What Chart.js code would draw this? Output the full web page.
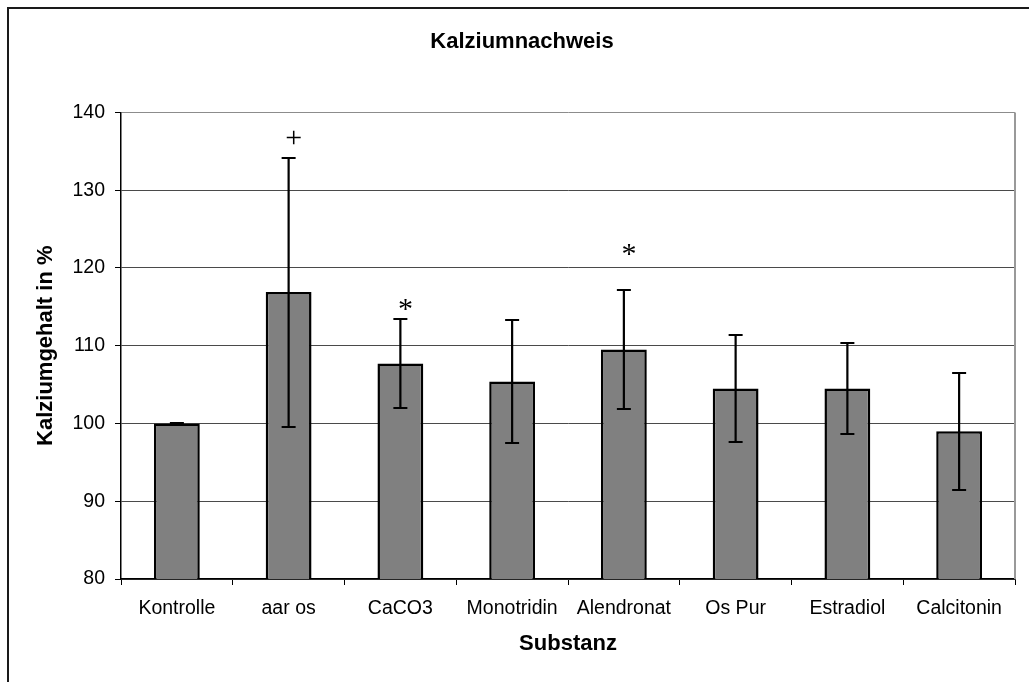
<!DOCTYPE html>
<html>
<head>
<meta charset="utf-8">
<title>Kalziumnachweis</title>
<script src="https://cdn.jsdelivr.net/npm/chart.js@4.4.1/dist/chart.umd.min.js"></script>
<style>
  html, body { margin: 0; padding: 0; background: #fff; }
  #wrap { position: relative; width: 1029px; height: 682px; overflow: hidden; }
  #frame { position: absolute; left: 7px; top: 7px; right: -10px; bottom: -10px;
           border-left: 2px solid #1a1a1a; border-top: 2px solid #1a1a1a; }
  canvas { position: absolute; left: 0; top: 0; }
</style>
</head>
<body>
<div id="wrap">
  <div id="frame"></div>
  <canvas id="chart" width="1029" height="682"></canvas>
</div>
<script>
// Substances tested
const substances = ['Kontrolle', 'aar os', 'CaCO3', 'Monotridin', 'Alendronat', 'Os Pur', 'Estradiol', 'Calcitonin'];

// Mean calcium content in % of control
const calciumMeans = [100, 116.9, 107.7, 105.4, 109.5, 104.5, 104.5, 99.0];

// Standard deviation (half length of the error bar)
const calciumSd = [0, 17.3, 5.7, 7.95, 7.6, 6.9, 5.8, 7.5];

// Significance markers above the bars, and the axis value they sit at
const sigMarks = ['', '+', '*', '', '*', '', '', ''];
const sigLevels = [null, 136.6, 114.6, null, 121.6, null, null, null];

// Value axis range
const yMin = 80;
const yMax = 140;
const yStep = 10;

/**
 * Draws error bars and significance markers on top of the bars
 */
const errorBars = {
  id: 'errorBars',
  afterDatasetsDraw(chart) {
    const { ctx, scales: { x, y } } = chart;
    ctx.save();
    ctx.strokeStyle = '#000';
    ctx.lineWidth = 2.2;
    substances.forEach((name, i) => {
      const px = x.getPixelForValue(i);
      const top = Math.round(y.getPixelForValue(calciumMeans[i] + calciumSd[i]));
      const bot = Math.round(y.getPixelForValue(calciumMeans[i] - calciumSd[i]));
      ctx.beginPath();
      ctx.moveTo(px, top);
      ctx.lineTo(px, bot);
      ctx.moveTo(px - 7, top);
      ctx.lineTo(px + 7, top);
      ctx.moveTo(px - 7, bot);
      ctx.lineTo(px + 7, bot);
      ctx.stroke();
    });

    // Markers
    ctx.fillStyle = '#000';
    ctx.font = '30px "Liberation Serif"';
    ctx.textAlign = 'center';
    ctx.textBaseline = 'middle';
    sigMarks.forEach((mark, i) => {
      if (!mark) return;
      ctx.fillText(mark, x.getPixelForValue(i) + 5, y.getPixelForValue(sigLevels[i]));
    });
    ctx.restore();
  },
  afterDraw(chart) {
    // Grey right edge of the plot area
    const { ctx, chartArea } = chart;
    ctx.save();
    ctx.strokeStyle = '#999';
    ctx.lineWidth = 2;
    ctx.beginPath();
    ctx.moveTo(chartArea.right, chartArea.top);
    ctx.lineTo(chartArea.right, chartArea.bottom);
    ctx.stroke();
    ctx.restore();
  },
};

const ctx = document.getElementById('chart').getContext('2d');
new Chart(ctx, {
  type: 'bar',
  data: {
    labels: substances,
    datasets: [
      {
        label: 'Kalziumgehalt',
        data: calciumMeans,
        backgroundColor: '#808080',
        borderColor: '#000',
        borderWidth: 2.5,
        borderSkipped: false,
        barPercentage: 0.41,
        categoryPercentage: 1,
      },
    ],
  },
  options: {
    responsive: false,
    animation: false,
    devicePixelRatio: 1,
    layout: {
      padding: { left: 29, right: 14, top: 0, bottom: 21 },
    },
    plugins: {
      legend: { display: false },
      tooltip: { enabled: false },
      title: {
        display: true,
        text: 'Kalziumnachweis',
        color: '#000',
        font: { family: '"Liberation Sans", Arial', size: 22, weight: 'bold' },
        padding: { top: 29, bottom: 57 },
      },
    },
    scales: {
      x: {
        afterFit(scale) {
          scale.height = 82;
        },
        grid: {
          offset: true,
          drawOnChartArea: false,
          drawTicks: true,
          tickLength: 6,
          tickColor: '#000',
        },
        border: { color: '#000', width: 1.5 },
        ticks: {
          color: '#000',
          padding: 12,
          font: { family: '"Liberation Sans", Arial', size: 19.5 },
        },
        title: {
          display: true,
          text: 'Substanz',
          color: '#000',
          font: { family: '"Liberation Sans", Arial', size: 22, weight: 'bold' },
        },
      },
      y: {
        min: yMin,
        max: yMax,
        afterFit(scale) {
          scale.width = 92;
        },
        grid: {
          color: ctx => (ctx.tick && ctx.tick.value === yMax ? '#8c8c8c' : '#4a4a4a'),
          lineWidth: 1,
          tickLength: 6,
          tickColor: '#000',
        },
        border: { color: '#000', width: 1.5 },
        ticks: {
          stepSize: yStep,
          color: '#000',
          padding: 10,
          font: { family: '"Liberation Sans", Arial', size: 19.5 },
        },
        title: {
          display: true,
          text: 'Kalziumgehalt in %',
          color: '#000',
          font: { family: '"Liberation Sans", Arial', size: 22, weight: 'bold' },
        },
      },
    },
  },
  plugins: [errorBars],
});
</script>
</body>
</html>
